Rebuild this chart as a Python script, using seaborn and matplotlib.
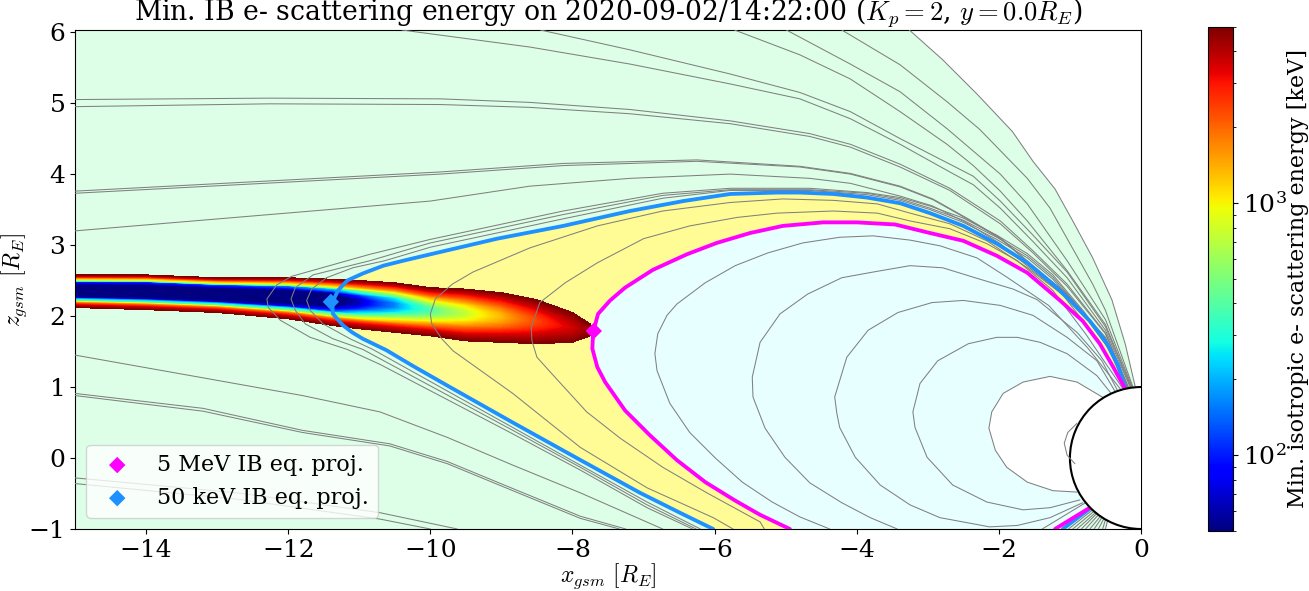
import numpy as np
import matplotlib
matplotlib.use('Agg')
import matplotlib.pyplot as plt
from matplotlib.colors import LogNorm
from matplotlib.cm import ScalarMappable
from matplotlib.patches import Circle
import seaborn as sns

# region boundaries
outer_x = [-3.26, -2.79, -2.31, -1.81, -1.52, -1.21, -0.96, -0.68, -0.41, -0.22, -0.08]
outer_z = [6.03, 5.61, 5.13, 4.60, 4.18, 3.79, 3.34, 2.82, 2.23, 1.60, 1.0]

magenta_x = [-0.22, -0.39, -0.58, -0.82, -1.14, -1.60, -2.03, -2.50, -2.97, -3.46, -4.0, -4.47, -5.04, -5.50, -5.97,
             -6.39, -6.87, -7.26, -7.47, -7.64, -7.71, -7.72, -7.65, -7.54, -7.26, -6.91, -6.53, -6.13, -5.71, -5.36,
             -4.94]
magenta_z = [0.97, 1.28, 1.61, 1.93, 2.22, 2.61, 2.85, 3.06, 3.17, 3.29, 3.32, 3.32, 3.27, 3.17, 3.03,
             2.87, 2.65, 2.40, 2.22, 2.03, 1.77, 1.54, 1.28, 1.07, 0.67, 0.32, -0.03, -0.34, -0.60, -0.80,
             -1.0]
magenta_end_x = [-1.21, -0.72]
magenta_end_z = [-1.0, -0.70]

blue_x = [-0.22, -0.32, -0.48, -0.72, -1.0, -1.24, -1.60, -2.03, -2.50, -2.97, -3.39, -3.86, -4.33, -4.80, -5.12,
          -5.78, -6.44, -7.19, -8.13, -9.06, -10.0, -10.38, -10.66, -10.95, -11.17, -11.30, -11.38, -11.37, -11.23,
          -11.10, -10.95, -10.62, -10.25, -9.76, -8.84, -7.94, -7.05, -6.49, -6.02]
blue_z = [0.97, 1.30, 1.61, 1.93, 2.22, 2.45, 2.75, 3.02, 3.27, 3.45, 3.59, 3.67, 3.72, 3.74, 3.74,
          3.72, 3.62, 3.48, 3.27, 3.09, 2.87, 2.78, 2.71, 2.60, 2.50, 2.36, 2.19, 2.03, 1.87,
          1.77, 1.68, 1.52, 1.30, 1.02, 0.50, 0.0, -0.49, -0.77, -1.0]
blue_end_x = [-1.10, -0.69]
blue_end_z = [-1.0, -0.69]

# field lines inside the 5 MeV boundary
small_x = [-0.90, -1.03, -1.08, -1.04, -0.93]
small_z = [0.49, 0.36, 0.21, 0.04, -0.08]
e_x = [-0.53, -0.90, -1.28, -1.66, -1.94, -2.10, -2.14, -2.05, -1.89, -1.60, -1.24, -0.90]
e_z = [0.85, 1.07, 1.15, 1.07, 0.91, 0.65, 0.42, 0.11, -0.13, -0.34, -0.46, -0.48]
a_x = [-0.42, -0.62, -1.04, -1.42, -1.74, -2.03, -2.43, -2.86, -3.11, -3.21, -3.18, -3.01, -2.65, -2.17, -1.66, -1.28, -0.86]
a_z = [0.91, 1.16, 1.47, 1.63, 1.70, 1.70, 1.61, 1.37, 1.05, 0.65, 0.43, 0.01, -0.38, -0.62, -0.73, -0.70, -0.59]
b_x = [-0.36, -0.62, -1.04, -1.52, -1.98, -2.50, -2.94, -3.42, -3.84, -4.14, -4.31, -4.28, -4.24, -4.02, -3.67, -3.25,
       -2.83, -2.13, -1.74, -1.28, -0.82]
b_z = [0.93, 1.37, 1.70, 2.01, 2.15, 2.22, 2.19, 2.05, 1.80, 1.42, 0.86, 0.63, 0.43, 0.01, -0.38, -0.66,
       -0.84, -0.97, -0.95, -0.84, -0.63]
c_x = [-0.33, -0.55, -0.90, -1.46, -1.80, -2.27, -2.79, -3.25, -3.77, -4.21, -4.69, -5.08, -5.36, -5.47, -5.46, -5.29,
       -5.01, -4.66, -4.21, -3.81, -3.43]
c_z = [0.95, 1.37, 1.77, 2.23, 2.38, 2.52, 2.68, 2.71, 2.62, 2.54, 2.31, 2.03, 1.63, 1.14, 0.86, 0.42,
       0.01, -0.35, -0.63, -0.84, -1.0]
c_end_x = [-1.39, -0.78]
c_end_z = [-1.0, -0.63]
d_x = [-0.28, -0.75, -1.30, -1.89, -2.31, -2.83, -3.25, -3.77, -4.24, -4.76, -5.25, -5.71, -6.13, -6.53, -6.67, -6.80,
       -6.84, -6.81, -6.63, -6.35, -5.99, -5.61, -5.19, -4.80, -4.38]
d_z = [0.96, 1.55, 2.15, 2.55, 2.82, 2.99, 3.07, 3.13, 3.11, 3.03, 2.89, 2.71, 2.47, 2.17, 2.01, 1.75,
       1.47, 1.23, 0.77, 0.36, 0.0, -0.34, -0.62, -0.83, -1.0]

# field lines between the two boundaries
f_x = [-0.25, -0.78, -1.24, -1.74, -2.17, -2.69, -3.25, -3.71, -4.33, -5.12, -5.68, -6.35, -7.0, -7.65, -8.10, -8.46,
       -8.58, -8.57, -8.50, -8.22, -7.80, -7.33, -6.73, -6.11, -5.36, -5.30]
f_z = [0.97, 1.75, 2.36, 2.78, 3.02, 3.23, 3.34, 3.45, 3.48, 3.45, 3.39, 3.27, 3.09, 2.75, 2.47, 2.19,
       1.84, 1.65, 1.42, 1.11, 0.65, 0.28, -0.13, -0.49, -0.90, -1.0]
g_x = [-0.23, -0.60, -1.10, -1.60, -2.17, -2.69, -3.25, -3.71, -4.33, -5.04, -5.78, -6.73, -7.65, -8.60, -9.40, -9.69,
       -9.93, -10.0, -9.98, -9.84, -9.68, -8.84, -7.89, -6.95, -6.02, -5.74]
g_z = [0.97, 1.65, 2.30, 2.68, 3.06, 3.30, 3.45, 3.58, 3.63, 3.65, 3.60, 3.48, 3.27, 2.96, 2.62, 2.45,
       2.24, 2.03, 1.89, 1.68, 1.51, 0.91, 0.15, -0.42, -0.84, -1.0]

# three lines just outside the 50 keV boundary
h_x = [-0.21, -0.45, -0.8, -1.24, -1.60, -2.03, -2.50, -2.97, -3.39, -3.86, -4.66, -5.78, -6.73, -8.13, -10.0, -10.64,
       -11.09, -11.46, -11.67, -11.74, -11.69, -11.51, -11.13, -10.81, -8.84, -7.89, -6.95, -6.20]
h_z = [0.98, 1.53, 2.02, 2.52, 2.82, 3.08, 3.32, 3.50, 3.63, 3.71, 3.77, 3.77, 3.66, 3.37, 2.97, 2.78,
       2.68, 2.54, 2.38, 2.22, 2.08, 1.89, 1.68, 1.53, 0.43, -0.10, -0.62, -1.0]
i_x = [-0.2, -0.45, -0.8, -1.24, -1.60, -2.03, -2.50, -2.97, -3.39, -3.86, -4.66, -5.78, -6.73, -8.13, -10.0, -10.85,
       -11.65, -11.90, -11.96, -11.90, -11.76, -11.37, -10.95, -10.71, -8.84, -7.89, -6.95, -6.26]
i_z = [0.98, 1.55, 2.04, 2.55, 2.85, 3.11, 3.35, 3.52, 3.65, 3.73, 3.78, 3.78, 3.70, 3.43, 3.03, 2.78,
       2.58, 2.40, 2.24, 2.08, 1.89, 1.68, 1.53, 1.40, 0.39, -0.13, -0.66, -1.0]
j_x = [-0.2, -0.45, -0.8, -1.24, -1.60, -2.03, -2.50, -2.97, -3.39, -3.86, -4.66, -5.78, -6.73, -8.13, -10.0, -10.85,
       -11.17, -11.95, -12.16, -12.30, -12.28, -12.11, -11.69, -11.17, -10.71, -8.84, -7.89, -6.95, -6.31]
j_z = [0.98, 1.57, 2.06, 2.58, 2.88, 3.14, 3.38, 3.55, 3.67, 3.74, 3.80, 3.80, 3.73, 3.48, 3.08, 2.87,
       2.78, 2.56, 2.44, 2.24, 2.12, 1.94, 1.70, 1.53, 1.32, 0.34, -0.17, -0.70, -1.0]

# open lines running down the tail
m_x = [-0.19, -0.5, -1.04, -1.52, -1.98, -2.45, -2.93, -3.39, -4.09, -4.66, -5.78, -7.19, -8.60, -10.0, -15.0]
m_z = [0.98, 1.68, 2.26, 2.64, 3.02, 3.31, 3.55, 3.69, 3.87, 3.94, 4.0, 3.94, 3.83, 3.62, 3.20]
n1_x = [-0.18, -0.5, -1.04, -1.52, -1.98, -2.45, -2.93, -3.39, -4.09, -4.80, -6.25, -8.13, -9.86, -15.0]
n1_z = [0.98, 1.70, 2.31, 2.71, 3.10, 3.38, 3.65, 3.83, 4.01, 4.11, 4.20, 4.15, 4.03, 3.76]
n2_z = [0.98, 1.69, 2.30, 2.70, 3.09, 3.37, 3.64, 3.82, 4.0, 4.10, 4.18, 4.12, 4.0, 3.73]
o1_x = [-0.17, -0.5, -1.04, -1.52, -1.98, -2.69, -3.39, -4.09, -4.66, -5.78, -7.19, -8.60, -9.86, -12.26, -15.0]
o1_z = [0.98, 1.76, 2.45, 2.92, 3.34, 3.80, 4.14, 4.42, 4.57, 4.75, 4.91, 5.01, 5.06, 5.07, 5.05]
o2_z = [0.98, 1.75, 2.42, 2.89, 3.30, 3.77, 4.10, 4.38, 4.53, 4.71, 4.85, 4.94, 4.98, 4.99, 4.95]
p1_x = [-0.14, -0.5, -1.04, -1.52, -1.98, -2.36, -2.69, -3.39, -4.09, -4.80, -5.78, -7.19, -8.45]
p1_z = [0.99, 1.85, 2.62, 3.14, 3.62, 3.97, 4.14, 4.50, 4.88, 5.15, 5.41, 5.75, 6.03]
p2_x = [-0.15, -0.5, -1.04, -1.52, -1.98, -2.36, -2.69, -3.39, -4.09, -4.80, -5.78, -7.19, -8.6, -10.40]
p2_z = [0.99, 1.80, 2.54, 3.05, 3.52, 3.85, 4.03, 4.42, 4.78, 5.06, 5.27, 5.55, 5.79, 6.03]
q1_x = [-0.13, -0.5, -1.04, -1.60, -1.98, -2.36, -2.73, -3.39, -4.09, -4.80, -5.72]
q1_z = [0.99, 1.88, 2.64, 3.34, 3.76, 4.12, 4.42, 4.88, 5.34, 5.68, 6.03]
q2_x = [-0.12, -0.5, -1.04, -1.60, -1.98, -2.73, -3.39, -4.09, -4.99]
q2_z = [0.99, 1.95, 2.78, 3.58, 4.0, 4.64, 5.16, 5.55, 6.03]
q3_x = [-0.11, -0.5, -0.68, -1.28, -1.60, -2.27, -2.73, -3.39, -4.21]
q3_z = [0.99, 2.08, 2.45, 3.52, 3.94, 4.63, 5.02, 5.54, 6.03]

r_x = [-15.0, -13.2, -11.8, -10.71, -9.76, -8.84, -7.89, -6.73]
r_z = [1.45, 1.13, 0.88, 0.65, 0.29, -0.10, -0.49, -1.0]
s1_x = [-15.0, -13.2, -11.8, -10.57, -9.76, -8.84, -7.89, -7.25]
s1_z = [0.91, 0.70, 0.39, 0.20, -0.05, -0.43, -0.82, -1.0]
s2_x = [-15.0, -13.2, -11.8, -10.57, -9.76, -8.84, -7.89, -7.34]
s2_z = [0.88, 0.66, 0.36, 0.17, -0.08, -0.46, -0.85, -1.0]
t1_x = [-15.0, -12.72, -10.71, -9.62]
t1_z = [-0.28, -0.49, -0.77, -1.0]
t2_x = [-15.0, -12.72, -10.71, -10.0]
t2_z = [-0.36, -0.58, -0.86, -1.0]

# short lines running from the southern cap to the lower edge
fan_bottom_x = [-1.02, -0.96, -0.90, -0.84, -0.78, -0.72, -0.66, -0.60, -0.54, -0.50]
fan_earth_x = [-0.68, -0.66, -0.64, -0.62, -0.60, -0.57, -0.55, -0.52, -0.50, -0.47]
fan_earth_z = [-0.73, -0.75, -0.77, -0.78, -0.80, -0.82, -0.84, -0.85, -0.87, -0.88]

# scattering band: upper and lower edge per column, energy across the band (bottom to top)
band_x = [-15.0, -14.0, -13.0, -12.0, -11.4, -11.0, -10.5, -10.0, -9.5, -9.0, -8.5, -8.0, -7.75, -7.7]
band_top = [2.58, 2.58, 2.54, 2.54, 2.52, 2.50, 2.47, 2.40, 2.38, 2.33, 2.23, 2.05, 1.89, 1.82]
band_bot = [2.12, 2.09, 2.05, 1.96, 1.87, 1.82, 1.77, 1.72, 1.65, 1.63, 1.61, 1.63, 1.72, 1.76]
band_frac = [0.0, 0.1, 0.2, 0.3, 0.4, 0.5, 0.6, 0.7, 0.8, 0.9, 1.0]
band_energy = [
    [5000, 5000, 5000, 5000, 5000, 5000, 5000, 5000, 5000, 5000, 5000, 5000, 5000, 5000],
    [2800, 2800, 2800, 2900, 3000, 3200, 3400, 3600, 3800, 4000, 4300, 4600, 4900, 5000],
    [420, 420, 450, 520, 700, 1000, 1400, 2000, 2500, 3000, 3600, 4200, 4700, 5000],
    [60, 60, 65, 80, 130, 300, 600, 1000, 1500, 2000, 3000, 3900, 4600, 5000],
    [40, 40, 40, 40, 45, 110, 250, 550, 950, 1500, 2500, 3700, 4500, 5000],
    [40, 40, 40, 40, 40, 65, 160, 380, 720, 1300, 2300, 3500, 4500, 5000],
    [40, 40, 40, 40, 40, 60, 160, 400, 780, 1400, 2400, 3700, 4500, 5000],
    [40, 40, 40, 40, 50, 110, 260, 700, 1100, 1800, 2800, 3900, 4600, 5000],
    [110, 110, 120, 150, 220, 450, 800, 1400, 1900, 2600, 3400, 4200, 4700, 5000],
    [1500, 1500, 1500, 1600, 1800, 2200, 2500, 2900, 3200, 3700, 4200, 4600, 4900, 5000],
    [5000, 5000, 5000, 5000, 5000, 5000, 5000, 5000, 5000, 5000, 5000, 5000, 5000, 5000],
]

title = 'Min. IB e- scattering energy on 2020-09-02/14:22:00 ($K_p=2$, $y=0.0R_E$)'
cbar_label = 'Min. isotropic e- scattering energy [keV]'

sns.set_style('ticks')
plt.rcParams['font.family'] = 'DejaVu Serif'
plt.rcParams['mathtext.fontset'] = 'cm'
for key in ['text.color', 'axes.labelcolor', 'xtick.color', 'ytick.color', 'axes.edgecolor']:
    plt.rcParams[key] = 'black'

fig = plt.figure(figsize=(13.09, 5.91), dpi=100)
ax = fig.add_axes([75 / 1309, 1 - 529 / 591, (1141 - 75) / 1309, (529 - 30) / 591])
cax = fig.add_axes([1208 / 1309, 1 - 531 / 591, 25 / 1309, 504 / 591])

# coloured regions
ax.fill([-15, -15] + outer_x + [-0.5], [-1, 6.03] + outer_z + [-1], color='#ddffe7', lw=0, zorder=1)
ax.fill(blue_x + blue_end_x, blue_z + blue_end_z, color='#fffc96', lw=0, zorder=1.1)
ax.fill(magenta_x + magenta_end_x, magenta_z + magenta_end_z, color='#e8ffff', lw=0, zorder=1.2)
ax.fill(e_x, e_z, color='white', lw=0, zorder=1.3)

# scattering band
norm = LogNorm(vmin=50, vmax=5000)
frac = np.array(band_frac)[:, None]
band_zz = np.array(band_bot) + frac * (np.array(band_top) - np.array(band_bot))
band_xx = np.tile(band_x, (len(band_frac), 1))
ax.contourf(band_xx, band_zz, np.array(band_energy, dtype=float), levels=np.geomspace(50, 5000, 200),
            norm=norm, cmap='jet', extend='min', zorder=2)

# field lines
gray_lines = [(e_x, e_z), (a_x, a_z), (b_x, b_z), (c_x, c_z), (c_end_x, c_end_z), (d_x, d_z), (f_x, f_z), (g_x, g_z),
              (h_x, h_z), (i_x, i_z), (j_x, j_z), (m_x, m_z), (n1_x, n1_z), (n1_x, n2_z), (o1_x, o1_z), (o1_x, o2_z),
              (p1_x, p1_z), (p2_x, p2_z), (q1_x, q1_z), (q2_x, q2_z), (q3_x, q3_z), (r_x, r_z), (s1_x, s1_z),
              (s2_x, s2_z), (t1_x, t1_z), (t2_x, t2_z), (outer_x, outer_z)]
for bx, ex, ez in zip(fan_bottom_x, fan_earth_x, fan_earth_z):
    gray_lines.append(([bx, ex], [-1.0, ez]))
for lx, lz in gray_lines:
    sns.lineplot(x=lx, y=lz, sort=False, estimator=None, color='gray', lw=0.75, ax=ax, zorder=3)

for lx, lz in [(blue_x, blue_z), (blue_end_x, blue_end_z)]:
    sns.lineplot(x=lx, y=lz, sort=False, estimator=None, color='dodgerblue', lw=2.75, ax=ax, zorder=4)
for lx, lz in [(magenta_x, magenta_z), (magenta_end_x, magenta_end_z)]:
    sns.lineplot(x=lx, y=lz, sort=False, estimator=None, color='magenta', lw=2.75, ax=ax, zorder=4.1)

ax.add_patch(Circle((0, 0), 1, facecolor='white', edgecolor='black', lw=1.5, zorder=5))
sns.lineplot(x=small_x, y=small_z, sort=False, estimator=None, color='gray', lw=0.75, ax=ax, zorder=6)

sns.scatterplot(x=[-7.7], y=[1.79], marker='D', s=70, color='magenta', edgecolor='none', ax=ax, zorder=7,
                label='5 MeV IB eq. proj.')
sns.scatterplot(x=[-11.4], y=[2.2], marker='D', s=70, color='dodgerblue', edgecolor='none', ax=ax, zorder=7,
                label='50 keV IB eq. proj.')

ax.set_xlim(-15, 0)
ax.set_ylim(-1, 6.03)
ax.set_xticks([-14, -12, -10, -8, -6, -4, -2, 0])
ax.set_yticks([-1, 0, 1, 2, 3, 4, 5, 6])
ax.tick_params(labelsize=18)
ax.set_xlabel('$x_{gsm}$ $[R_E]$', fontsize=17, labelpad=0)
ax.set_ylabel('$z_{gsm}$ $[R_E]$', fontsize=17, labelpad=0)
ax.set_title(title, fontsize=19.2, pad=3)
ax.legend(loc='lower left', fontsize=16, facecolor='white', frameon=True)

cb = fig.colorbar(ScalarMappable(norm=norm, cmap='jet'), cax=cax)
cb.ax.tick_params(labelsize=18)
cb.set_label(cbar_label, fontsize=16, labelpad=0)

fig.savefig('out.png', dpi=100)
